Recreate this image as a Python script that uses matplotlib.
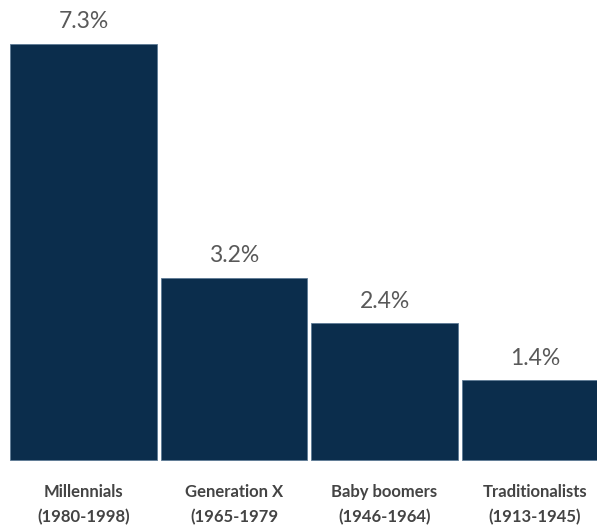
import matplotlib.pyplot as plt

# Share of each generation (%)
generations = ["Millennials", "Generation X", "Baby boomers", "Traditionalists"]
years = ["(1980-1998)", "(1965-1979", "(1946-1964)", "(1913-1945)"]
shares = [7.3, 3.2, 2.4, 1.4]

BAR_COLOR = "#0b2d4c"
TEXT_COLOR = "#595959"

plt.rcParams["font.family"] = ["Lato", "DejaVu Sans"]

fig = plt.figure(figsize=(5.97, 5.30), dpi=100)
ax = fig.add_axes([0, 0, 1, 1])

x = list(range(len(shares)))
ax.bar(x, shares, width=0.975, color=BAR_COLOR, edgecolor="#5d7a95", linewidth=0.6)

for xi, v in zip(x, shares):
    ax.text(xi, v + 0.2, f"{v}%", ha="center", va="bottom",
            fontsize=16.5, color=TEXT_COLOR)

for xi, name, yr in zip(x, generations, years):
    ax.text(xi, -0.57, name, ha="center", va="center",
            fontsize=12, color="#444444", fontweight="bold")
    ax.text(xi, -1.0, yr, ha="center", va="center",
            fontsize=12, color="#444444", fontweight="bold")

ax.set_xlim(-0.555, 3.412)
ax.set_ylim(-1.228, 8.07)
ax.axis("off")

fig.savefig("out.png", dpi=100)
